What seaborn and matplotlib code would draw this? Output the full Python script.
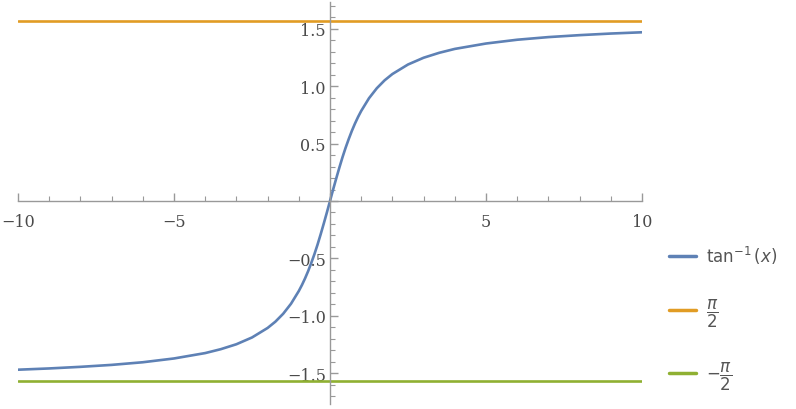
import numpy as np
import pandas as pd
import matplotlib
matplotlib.use("Agg")
import matplotlib.pyplot as plt
from matplotlib.ticker import MultipleLocator, FuncFormatter
import seaborn as sns

sns.set_style("white")
plt.rcParams['font.family'] = ['DejaVu Serif']
plt.rcParams['mathtext.fontset'] = 'dejavusans'

# values
x_curve = [-10, -9, -8, -7, -6, -5, -4, -3.5, -3, -2.5, -2, -1.75, -1.5, -1.25, -1,
           -0.9, -0.8, -0.7, -0.6, -0.5, -0.4, -0.3, -0.2, -0.1, 0,
           0.1, 0.2, 0.3, 0.4, 0.5, 0.6, 0.7, 0.8, 0.9, 1, 1.25, 1.5, 1.75, 2,
           2.5, 3, 3.5, 4, 5, 6, 7, 8, 9, 10]
y_curve = [-1.471, -1.460, -1.446, -1.429, -1.406, -1.373, -1.326, -1.292, -1.249,
           -1.190, -1.107, -1.052, -0.983, -0.896, -0.785,
           -0.733, -0.675, -0.611, -0.540, -0.464, -0.381, -0.291, -0.197, -0.100, 0.0,
           0.100, 0.197, 0.291, 0.381, 0.464, 0.540, 0.611, 0.675, 0.733, 0.785,
           0.896, 0.983, 1.052, 1.107, 1.190, 1.249, 1.292, 1.326, 1.373, 1.406,
           1.429, 1.446, 1.460, 1.471]
x_flat = [-10, 10]
y_upper = [1.5708, 1.5708]
y_lower = [-1.5708, -1.5708]

labels = [r'$\tan^{-1}(x)$', r'$\dfrac{\pi}{2}$', r'$-\dfrac{\pi}{2}$']
colors = ['#5E81B5', '#E19C24', '#8FB032']

df = pd.concat([
    pd.DataFrame({'x': x_curve, 'y': y_curve, 'series': labels[0]}),
    pd.DataFrame({'x': x_flat, 'y': y_upper, 'series': labels[1]}),
    pd.DataFrame({'x': x_flat, 'y': y_lower, 'series': labels[2]}),
])

fig = plt.figure(figsize=(7.96, 4.10), dpi=100)
ax = fig.add_axes([18 / 796, 5 / 410, 624 / 796, 402 / 410])

sns.lineplot(data=df, x='x', y='y', hue='series', palette=colors,
             linewidth=1.9, ax=ax, sort=False, estimator=None)

ax.set_xlim(-10, 10)
ax.set_ylim(-1.77, 1.735)

for s in ['top', 'right']:
    ax.spines[s].set_visible(False)
ax.spines['left'].set_position(('data', 0))
ax.spines['bottom'].set_position(('data', 0))
for s in ['left', 'bottom']:
    ax.spines[s].set_color('#999999')
    ax.spines[s].set_linewidth(1.0)

ax.xaxis.set_major_locator(MultipleLocator(5))
ax.xaxis.set_minor_locator(MultipleLocator(1))
ax.yaxis.set_major_locator(MultipleLocator(0.5))
ax.yaxis.set_minor_locator(MultipleLocator(0.1))

fmt_x = FuncFormatter(lambda v, p: '' if abs(v) < 1e-9 else f'{v:.0f}'.replace('-', '\u2212'))
fmt_y = FuncFormatter(lambda v, p: '' if abs(v) < 1e-9 else f'{v:.1f}'.replace('-', '\u2212'))
ax.xaxis.set_major_formatter(fmt_x)
ax.yaxis.set_major_formatter(fmt_y)

ax.tick_params(axis='both', which='both', bottom=True, left=True)
ax.tick_params(axis='both', which='major', direction='in', length=6, width=1,
               color='#999999', labelcolor='#4a4a4a', labelsize=11.5)
ax.tick_params(axis='both', which='minor', direction='in', length=3.5, width=0.8,
               color='#999999')
ax.tick_params(axis='x', pad=9)
ax.tick_params(axis='y', pad=3)
ax.set_xlabel('')
ax.set_ylabel('')

leg = ax.legend(loc='center left', bbox_to_anchor=(1.02, 0.215), frameon=False,
                fontsize=12, handlelength=1.6, labelspacing=1.85, handletextpad=0.6)
for line in leg.get_lines():
    line.set_linewidth(2.5)
for t in leg.get_texts():
    t.set_color('#555555')

fig.savefig('out.png', dpi=100)
